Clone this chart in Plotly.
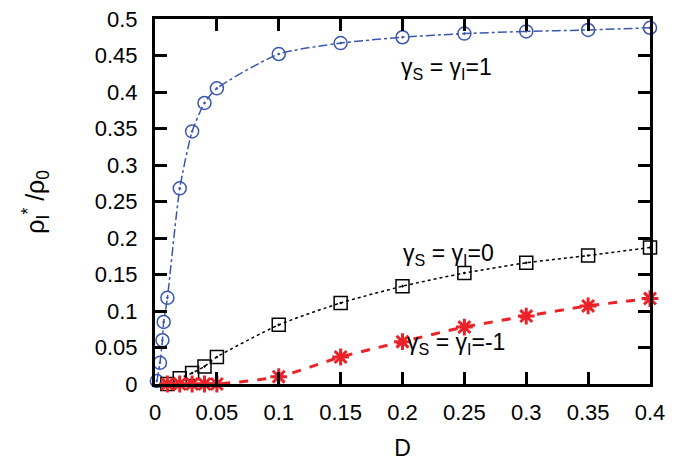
import plotly.graph_objects as go

x_blue = [0.0015, 0.004, 0.006, 0.007, 0.01, 0.02, 0.03, 0.04, 0.05, 0.1, 0.15, 0.2, 0.25, 0.3, 0.35, 0.4]
y_blue = [0.004, 0.029, 0.06, 0.085, 0.118, 0.268, 0.346, 0.385, 0.405, 0.452, 0.467, 0.475, 0.480, 0.483, 0.485, 0.488]

x_black = [0.01, 0.02, 0.03, 0.04, 0.05, 0.1, 0.15, 0.2, 0.25, 0.3, 0.35, 0.4]
y_black = [0.0, 0.008, 0.015, 0.024, 0.037, 0.081, 0.111, 0.134, 0.152, 0.166, 0.176, 0.187]

x_red = [0.01, 0.02, 0.03, 0.04, 0.05, 0.1, 0.15, 0.2, 0.25, 0.3, 0.35, 0.4]
y_red = [0.0, 0.0, 0.0, 0.0, 0.0, 0.010, 0.037, 0.058, 0.078, 0.093, 0.107, 0.117]

x_ticks = [0, 0.05, 0.1, 0.15, 0.2, 0.25, 0.3, 0.35, 0.4]
x_ticklabels = ["0", "0.05", "0.1", "0.15", "0.2", "0.25", "0.3", "0.35", "0.4"]
y_ticks = [0, 0.05, 0.1, 0.15, 0.2, 0.25, 0.3, 0.35, 0.4, 0.45, 0.5]
y_ticklabels = ["0", "0.05", "0.1", "0.15", "0.2", "0.25", "0.3", "0.35", "0.4", "0.45", "0.5"]

labels = ["γ<sub>S</sub> = γ<sub>I</sub>=1", "γ<sub>S</sub> = γ<sub>I</sub>=0", "γ<sub>S</sub> = γ<sub>I</sub>=-1"]
label_pos = [(0.197, 0.432), (0.199, 0.178), (0.202, 0.056)]

FONT = "Liberation Sans, Arial, sans-serif"
BLUE = "#3b56b0"
RED = "#ec2228"

fig = go.Figure()
fig.add_trace(go.Scatter(x=x_blue, y=y_blue, mode="lines+markers", cliponaxis=False,
                         line=dict(color=BLUE, width=1.5, dash="dashdot", shape="spline", smoothing=0.6),
                         marker=dict(symbol="circle-open-dot", size=13, color=BLUE, line=dict(width=1.5))))
fig.add_trace(go.Scatter(x=x_black, y=y_black, mode="lines+markers", cliponaxis=False,
                         line=dict(color="black", width=1.5, dash="dot", shape="spline", smoothing=0.6),
                         marker=dict(symbol="square-open-dot", size=13, color="black", line=dict(width=1.5))))
fig.add_trace(go.Scatter(x=x_red, y=y_red, mode="lines+markers", cliponaxis=False,
                         line=dict(color=RED, width=3, dash="dash", shape="spline", smoothing=0.6),
                         marker=dict(symbol="asterisk-open", size=14, color=RED, line=dict(width=3, color=RED))))

for t, (lx, ly) in zip(labels, label_pos):
    fig.add_annotation(x=lx, y=ly, text=t, showarrow=False, xanchor="left", yanchor="middle",
                       font=dict(size=23, color="black", family=FONT))

# y-axis title as rotated text, placed left of the tick labels
fig.add_annotation(xref="paper", yref="paper", x=-0.242, y=0.5, xanchor="center", yanchor="middle",
                   text="ρ<sub>I</sub><sup>*</sup> /ρ<sub>0</sub>", textangle=-90, showarrow=False,
                   font=dict(size=25, color="black", family=FONT))

axis_common = dict(showline=True, linecolor="black", linewidth=3, mirror="allticks",
                   ticks="inside", ticklen=12, tickwidth=3, tickcolor="black",
                   showgrid=False, zeroline=False, automargin=False, ticklabeloverflow="allow",
                   tickfont=dict(size=22, color="black", family=FONT))

fig.update_xaxes(range=[0, 0.4], tickvals=x_ticks, ticktext=x_ticklabels, ticklabelstandoff=7,
                 title=dict(text="D", font=dict(size=23, color="black", family=FONT), standoff=16),
                 **axis_common)
fig.update_yaxes(range=[0, 0.5], tickvals=y_ticks, ticktext=y_ticklabels, ticklabelstandoff=10,
                 **axis_common)

# page body has an 8px default margin; offset compensated in margins
fig.update_layout(width=670, height=465, showlegend=False,
                  plot_bgcolor="white", paper_bgcolor="white",
                  margin=dict(l=147, r=28, t=11, b=89))

fig.write_html("out.html")
